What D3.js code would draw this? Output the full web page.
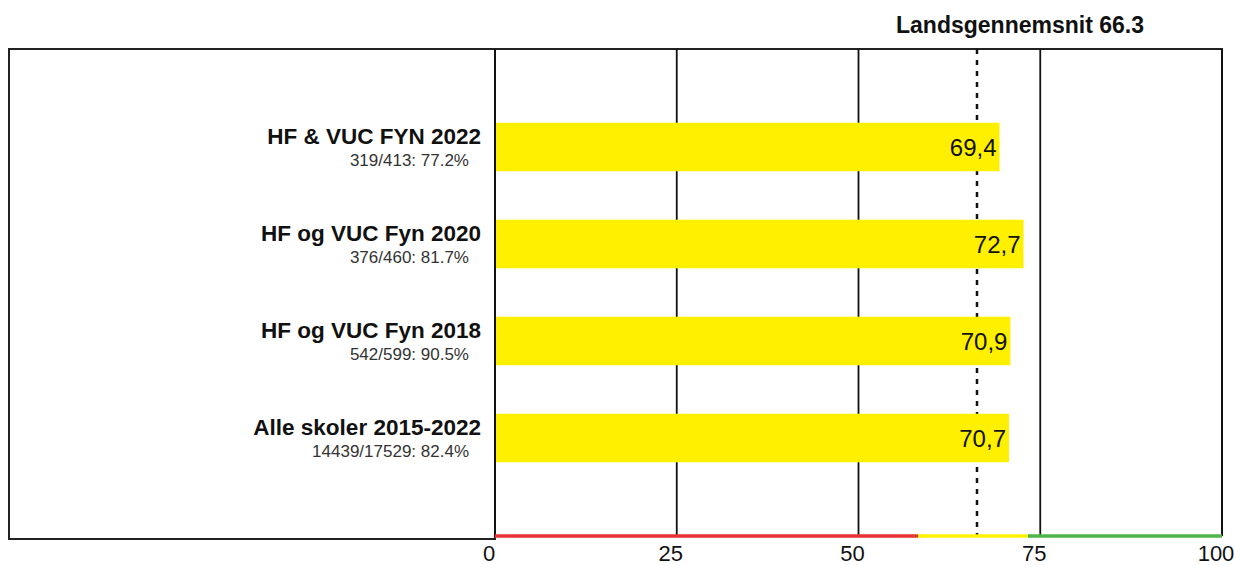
<!DOCTYPE html>
<html>
<head>
<meta charset="utf-8">
<script src="https://cdn.jsdelivr.net/npm/d3@7"></script>
<style>
  body { margin: 0; background: #fff; }
  svg { display: block; font-family: "Liberation Sans", Arial, sans-serif; }
</style>
</head>
<body>
<svg id="chart" width="1234" height="565"></svg>
<script>
const schools = ['HF & VUC FYN 2022', 'HF og VUC Fyn 2020', 'HF og VUC Fyn 2018', 'Alle skoler 2015-2022'];
const subLabels = ['319/413: 77.2%', '376/460: 81.7%', '542/599: 90.5%', '14439/17529: 82.4%'];
const scores = [69.4, 72.7, 70.9, 70.7];
const ticks = [0, 25, 50, 75, 100];
const average = 66.3;
const zones = [
    { from: 0, to: 58.2, color: '#e3342f' },
    { from: 58.2, to: 73.3, color: '#fff200' },
    { from: 73.3, to: 100, color: '#4cb648' }
];

const svg = d3.select('#chart');

const plotLeft = 495, plotRight = 1222, plotTop = 49, plotBottom = 536;

const x = d3.scaleLinear().domain([0, 100]).range([plotLeft, plotRight]);
const y = d3.scaleBand()
    .domain(schools)
    .range([plotTop, plotBottom])
    .paddingInner(0.5)
    .paddingOuter(0.76);

const fmt = v => d3.format('.1f')(v).replace('.', ',');

// label box on the left
svg.append('rect')
    .attr('x', 9).attr('y', plotTop)
    .attr('width', plotLeft - 9).attr('height', plotBottom + 3 - plotTop)
    .attr('fill', 'none')
    .attr('stroke', '#222')
    .attr('stroke-width', 2);

// frame of the plot area
svg.append('path')
    .attr('d', `M${plotLeft},${plotTop}H${x(100)}V${plotBottom}`)
    .attr('fill', 'none')
    .attr('stroke', '#222')
    .attr('stroke-width', 2);

// vertical grid lines
svg.selectAll('.grid')
    .data(ticks)
    .enter().append('line')
    .attr('x1', d => x(d)).attr('x2', d => x(d))
    .attr('y1', plotTop).attr('y2', plotBottom)
    .attr('stroke', '#111')
    .attr('stroke-width', 1.8);

// national average
svg.append('line')
    .attr('x1', x(average)).attr('x2', x(average))
    .attr('y1', plotTop).attr('y2', plotBottom)
    .attr('stroke', '#111')
    .attr('stroke-width', 2.5)
    .attr('stroke-dasharray', '5,6');

// bars (drawn over the grid)
svg.selectAll('.bar')
    .data(scores)
    .enter().append('rect')
    .attr('class', 'bar')
    .attr('x', x(0) + 1)
    .attr('y', (d, i) => y(schools[i]))
    .attr('width', d => x(d) - x(0) - 1)
    .attr('height', y.bandwidth())
    .attr('fill', '#fff000');

svg.append('text')
    .attr('x', x(average) + 43)
    .attr('y', 33)
    .attr('text-anchor', 'middle')
    .attr('font-weight', 'bold')
    .attr('font-size', 23)
    .attr('fill', '#111')
    .text('Landsgennemsnit ' + average);

// value labels
svg.selectAll('.val')
    .data(scores)
    .enter().append('text')
    .attr('x', d => x(d) - 3)
    .attr('y', (d, i) => y(schools[i]) + y.bandwidth() / 2 + 9)
    .attr('text-anchor', 'end')
    .attr('font-size', 24)
    .attr('fill', '#111')
    .text(d => fmt(d));

// category labels
svg.selectAll('.name')
    .data(schools)
    .enter().append('text')
    .attr('x', 481)
    .attr('y', d => y(d) + y.bandwidth() / 2 - 3)
    .attr('text-anchor', 'end')
    .attr('font-weight', 'bold')
    .attr('font-size', 22.5)
    .attr('fill', '#111')
    .text(d => d);

svg.selectAll('.sub')
    .data(subLabels)
    .enter().append('text')
    .attr('x', 469)
    .attr('y', (d, i) => y(schools[i]) + y.bandwidth() / 2 + 19)
    .attr('text-anchor', 'end')
    .attr('font-size', 17)
    .attr('fill', '#333')
    .text(d => d);

// colored zones along the axis
svg.selectAll('.zone')
    .data(zones)
    .enter().append('line')
    .attr('x1', d => x(d.from)).attr('x2', d => x(d.to))
    .attr('y1', plotBottom).attr('y2', plotBottom)
    .attr('stroke', d => d.color)
    .attr('stroke-width', 3.5);

// axis tick labels
svg.selectAll('.tick')
    .data(ticks)
    .enter().append('text')
    .attr('x', d => x(d) - 6)
    .attr('y', 561)
    .attr('text-anchor', 'middle')
    .attr('font-size', 22)
    .attr('fill', '#111')
    .text(d => d);
</script>
</body>
</html>
